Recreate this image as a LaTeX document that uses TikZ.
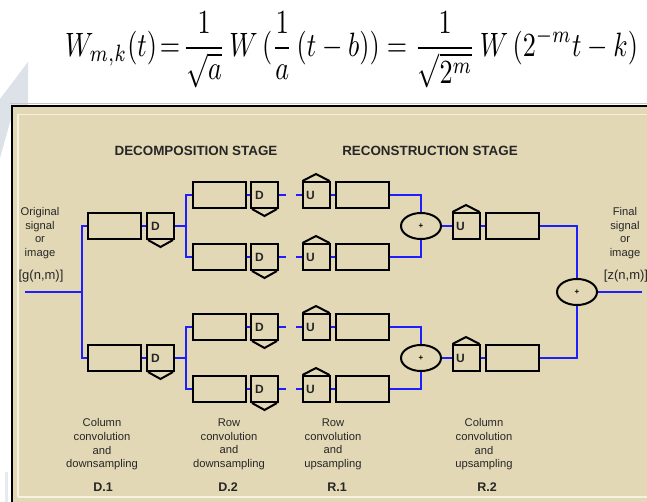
\documentclass[tikz,border=0pt]{standalone}
\usepackage{fontspec}
\setmainfont{Liberation Sans}
\usepackage{amsmath}
\usetikzlibrary{calc,shapes.geometric}

\definecolor{panel}{HTML}{E3D8B6}
\definecolor{rim}{HTML}{F7F1E0}
\definecolor{wireblue}{HTML}{1E1EFF}
\definecolor{ghost}{HTML}{DCE2E8}
\definecolor{ink}{HTML}{262626}

\pgfdeclarelayer{back}
\pgfdeclarelayer{wires}
\pgfsetlayers{back,wires,main}

% sampler boxes: D with a down-pointing tip, U with a roof
\newcommand{\dsamp}[2]{%
  \node[samp] (#1) at (#2) {};
  \node[boxtxt, anchor=west] at ($(#1.west)+(5,0)$) {D};
  \draw[outline] ($(#1.south west)+(2,0)$) -- ($(#1.south)+(0,7)$) -- ($(#1.south east)+(-2,0)$);}
\newcommand{\usamp}[2]{%
  \node[samp] (#1) at (#2) {};
  \node[boxtxt, anchor=west] at ($(#1.west)+(4.5,0)$) {U};
  \draw[outline] ($(#1.north west)+(1,0)$) -- ($(#1.north)+(0,-7)$) -- ($(#1.north east)+(-1,0)$);}

\begin{document}
\begin{tikzpicture}[x=1pt,y=-1pt,
  outline/.style={draw=black, line width=2pt, line join=miter},
  conv/.style={outline, fill=panel, rectangle, minimum width=53pt, minimum height=26pt, inner sep=0pt},
  samp/.style={outline, fill=panel, rectangle, minimum width=27pt, minimum height=26pt, inner sep=0pt},
  adder/.style={outline, fill=panel, ellipse, minimum width=40pt, minimum height=26pt, inner sep=0pt,
                font=\fontsize{8}{8}\selectfont\bfseries},
  wire/.style={draw=wireblue, line width=2.1pt},
  boxtxt/.style={inner sep=0pt, text=ink, font=\fontsize{12}{12}\selectfont\bfseries},
  lbl/.style={inner sep=0pt, text=ink, align=center, font=\fontsize{11.2}{13.6}\selectfont},
  sig/.style={inner sep=0pt, text=ink, font=\fontsize{13}{13}\selectfont},
  stage/.style={inner sep=0pt, text=ink, font=\fontsize{13.4}{13.4}\selectfont\bfseries},
  tag/.style={inner sep=0pt, text=ink, font=\fontsize{12.5}{12.5}\selectfont\bfseries}]

\useasboundingbox (0,0) rectangle (647,502);

% ---- backdrop, framed panel ----
\begin{pgfonlayer}{back}
  \fill[white] (0,0) rectangle (647,502);
  \fill[ghost] (28,62) -- (28,106) -- (12,106) -- (12,115) -- (0,158) -- (0,99) -- cycle;
  \fill[ghost!70] (5,472) rectangle (8,502);
  \fill[panel] (12,106) rectangle (660,520);
  \draw[gray!45, line width=1.2pt] (10,103.5) -- (660,103.5);
  \draw[black, line width=2.6pt] (12,520) -- (12,106) -- (660,106);
  \draw[rim, line width=1.6pt] (18,497) -- (18,114.5) -- (660,114.5);
  \draw[rim, line width=1.6pt] (18,497) -- (660,497);
\end{pgfonlayer}

% ---- formula ----
\node[inner sep=0pt] (eq) at (351.5,50)
  {\resizebox*{573pt}{76pt}{$\displaystyle W_{m,k}(t)\!=\!\frac{1}{\sqrt{a}}\,W\,(\frac{1}{a}\,(t-b))=\frac{1}{\sqrt{2^m}}\,W\,(2^{-m}t-k)$}};

% ---- stage titles ----
\node[stage] (tdec) at (196,151) {DECOMPOSITION STAGE};
\node[stage] (trec) at (430,151) {RECONSTRUCTION STAGE};

% ---- signal labels ----
\node[lbl] (orig) at (40,233) {Original\\signal\\or\\image};
\node[sig] (gnm) at (41,276) {[g(n,m)]};
\node[lbl] (fin) at (625,233) {Final\\signal\\or\\image};
\node[sig] (znm) at (626,276) {[z(n,m)]};

% ---- decomposition: D.1 ----
\node[conv] (c1a) at (114.5,226) {};
\dsamp{s1a}{160.5,226}
\node[conv] (c1b) at (114.5,358) {};
\dsamp{s1b}{160.5,358}

% ---- decomposition: D.2 ----
\node[conv] (c2a) at (219.5,195) {};
\dsamp{s2a}{264.5,195}
\node[conv] (c2b) at (219.5,257) {};
\dsamp{s2b}{264.5,257}
\node[conv] (c2c) at (219.5,327) {};
\dsamp{s2c}{264.5,327}
\node[conv] (c2d) at (219.5,389) {};
\dsamp{s2d}{264.5,389}

% ---- reconstruction: R.1 ----
\usamp{u1a}{316,195}
\node[conv] (r1a) at (362.5,195) {};
\usamp{u1b}{316,257}
\node[conv] (r1b) at (362.5,257) {};
\usamp{u1c}{316,327}
\node[conv] (r1c) at (362.5,327) {};
\usamp{u1d}{316,389}
\node[conv] (r1d) at (362.5,389) {};
\node[adder] (add1) at (421,226) {+};
\node[adder] (add2) at (421,358) {+};

% ---- reconstruction: R.2 ----
\usamp{u2a}{466,226}
\node[conv] (r2a) at (512,226) {};
\usamp{u2b}{466,358}
\node[conv] (r2b) at (512,358) {};
\node[adder] (addf) at (577,292) {+};

% ---- signal path ----
\coordinate (in) at (25,292);
\coordinate (j1) at (82,292);
\coordinate (j2) at (186,226);
\coordinate (j3) at (186,358);
\coordinate (out) at (642,292);
\begin{pgfonlayer}{wires}
  \draw[wire] (in) -- (j1);
  \draw[wire] (j1) |- (c1a.west);
  \draw[wire] (j1) |- (c1b.west);
  \draw[wire] (c1a.east) -- (s1a.west);
  \draw[wire] (c1b.east) -- (s1b.west);
  \draw[wire] (s1a.east) -- (j2);
  \draw[wire] (s1b.east) -- (j3);
  \draw[wire] (j2) |- (c2a.west);
  \draw[wire] (j2) |- (c2b.west);
  \draw[wire] (j3) |- (c2c.west);
  \draw[wire] (j3) |- (c2d.west);
  \foreach \k in {a,b,c,d}{
    \draw[wire] (c2\k.east) -- (s2\k.west);
    \draw[wire] (s2\k.east) -- ++(7,0);
    \draw[wire] (u1\k.west) -- ++(-5.5,0);
    \draw[wire] (u1\k.east) -- (r1\k.west);
  }
  \draw[wire] (r1a.east) -| (add1.north);
  \draw[wire] (r1b.east) -| (add1.south);
  \draw[wire] (r1c.east) -| (add2.north);
  \draw[wire] (r1d.east) -| (add2.south);
  \draw[wire] (add1.east) -- (u2a.west);
  \draw[wire] (add2.east) -- (u2b.west);
  \draw[wire] (u2a.east) -- (r2a.west);
  \draw[wire] (u2b.east) -- (r2b.west);
  \draw[wire] (r2a.east) -| (addf.north);
  \draw[wire] (r2b.east) -| (addf.south);
  \draw[wire] (addf.east) -- (out);
\end{pgfonlayer}

% ---- stage captions ----
\node[lbl] (capd1) at (102,444.5) {Column\\convolution\\and\\downsampling};
\node[tag] (tagd1) at (103,487) {D.1};
\node[lbl] (capd2) at (229,444.5) {Row\\convolution\\and\\downsampling};
\node[tag] (tagd2) at (228,487) {D.2};
\node[lbl] (capr1) at (333,444.5) {Row\\convolution\\and\\upsampling};
\node[tag] (tagr1) at (337,487) {R.1};
\node[lbl] (capr2) at (484,444.5) {Column\\convolution\\and\\upsampling};
\node[tag] (tagr2) at (487,487) {R.2};
\end{tikzpicture}
\end{document}
